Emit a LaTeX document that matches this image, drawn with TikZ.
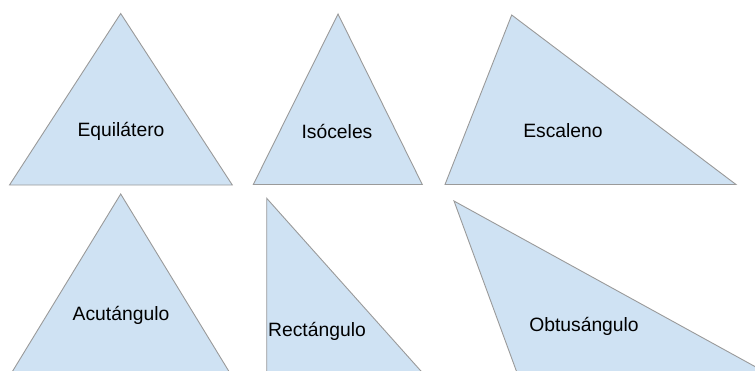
\documentclass[tikz,border=0pt]{standalone}
\usepackage{fontspec}
\setmainfont{Liberation Sans}
\definecolor{triblue}{HTML}{CFE2F3}
\definecolor{triedge}{HTML}{9A9A9A}

\begin{document}
\begin{tikzpicture}[x=1pt, y=-1pt,
	tri/.style={fill=triblue, draw=triedge, line width=0.9pt, line join=miter},
	lbl/.style={font=\fontsize{19.3}{23}\selectfont, inner sep=0pt}]
			\useasboundingbox (0,0) rectangle (755,370);
			\clip (0,0) rectangle (755,370);
			% corners
			\node[shape=coordinate] (eqa) at (120.7, 13.5) {};
			\node[shape=coordinate] (eqb) at (  9.5,185.0) {};
			\node[shape=coordinate] (eqc) at (232.3,185.0) {};
			\node[shape=coordinate] (isa) at (338.0, 14.0) {};
			\node[shape=coordinate] (isb) at (253.3,184.5) {};
			\node[shape=coordinate] (isc) at (422.3,184.5) {};
			\node[shape=coordinate] (esa) at (511.7, 15.0) {};
			\node[shape=coordinate] (esb) at (445.0,184.5) {};
			\node[shape=coordinate] (esc) at (736.0,184.5) {};
			\node[shape=coordinate] (aca) at (120.7,194.0) {};
			\node[shape=coordinate] (acb) at ( -5.0,400.0) {};
			\node[shape=coordinate] (acc) at (246.4,400.0) {};
			\node[shape=coordinate] (rea) at (266.7,198.3) {};
			\node[shape=coordinate] (reb) at (266.7,400.0) {};
			\node[shape=coordinate] (rec) at (446.8,400.0) {};
			\node[shape=coordinate] (oba) at (454.0,201.0) {};
			\node[shape=coordinate] (obb) at (527.0,400.0) {};
			\node[shape=coordinate] (obc) at (800.0,391.3) {};
			% triangles
			\draw[tri] (eqa) -- (eqb) -- (eqc) -- cycle;
			\draw[tri] (isa) -- (isb) -- (isc) -- cycle;
			\draw[tri] (esa) -- (esb) -- (esc) -- cycle;
			\draw[tri] (aca) -- (acb) -- (acc) -- cycle;
			\draw[tri] (rea) -- (reb) -- (rec) -- cycle;
			\draw[tri] (oba) -- (obb) -- (obc) -- cycle;
			% names
			\node[lbl] (equi) at (121,131) {Equilátero};
			\node[lbl] (isos) at (337,131) {Isóceles};
			\node[lbl] (esca) at (563,131) {Escaleno};
			\node[lbl] (acut) at (121,315) {Acutángulo};
			\node[lbl] (rect) at (317,331) {Rectángulo};
			\node[lbl] (obtu) at (584,326) {Obtusángulo};
		\end{tikzpicture}
\end{document}
